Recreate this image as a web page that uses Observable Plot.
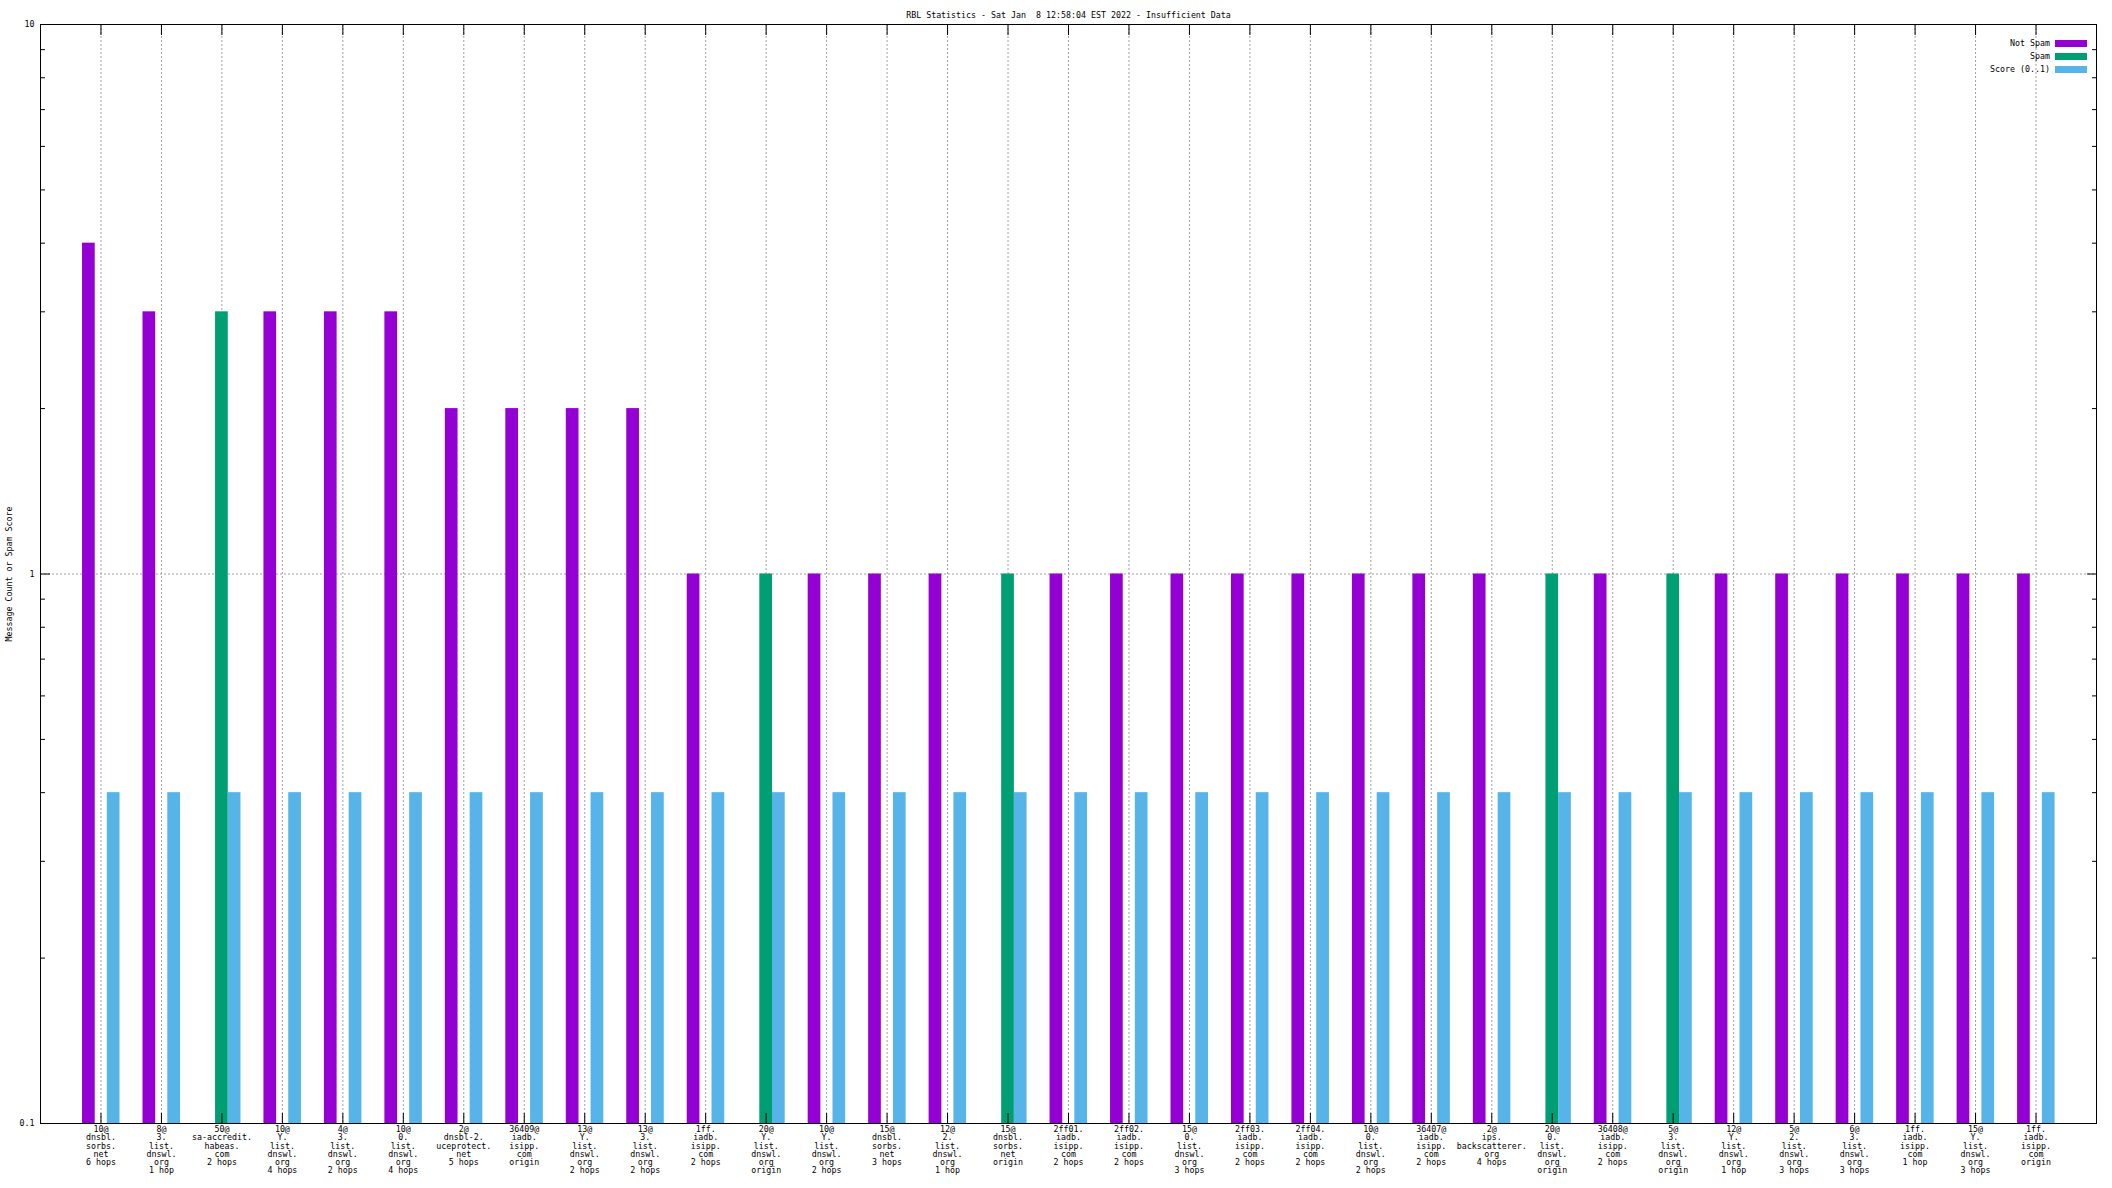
<!DOCTYPE html>
<html>
<head>
<meta charset="utf-8">
<script src="https://cdn.jsdelivr.net/npm/d3@7"></script>
<script src="https://cdn.jsdelivr.net/npm/@observablehq/plot@0.6"></script>
<style>
  html, body { margin: 0; padding: 0; background: #fff; }
  #wrap { position: relative; width: 2112px; height: 1188px; font-family: "DejaVu Sans Mono", monospace; }
  .leg { position: absolute; font-size: 8.3px; line-height: 8px; color: #000; display: flex; align-items: center; }
  .leg span.t { text-align: right; }
  .leg span.s { display: inline-block; width: 32px; height: 7px; margin-left: 5px; }
</style>
</head>
<body>
<div id="wrap"></div>
<script>
const title = "RBL Statistics - Sat Jan  8 12:58:04 EST 2022 - Insufficient Data";
const yLabel = "Message Count or Spam Score";
const categories = [
  "10@\ndnsbl.\nsorbs.\nnet\n6 hops",
  "8@\n3.\nlist.\ndnswl.\norg\n1 hop",
  "50@\nsa-accredit.\nhabeas.\ncom\n2 hops",
  "10@\nY.\nlist.\ndnswl.\norg\n4 hops",
  "4@\n3.\nlist.\ndnswl.\norg\n2 hops",
  "10@\n0.\nlist.\ndnswl.\norg\n4 hops",
  "2@\ndnsbl-2.\nuceprotect.\nnet\n5 hops",
  "36409@\niadb.\nisipp.\ncom\norigin",
  "13@\nY.\nlist.\ndnswl.\norg\n2 hops",
  "13@\n3.\nlist.\ndnswl.\norg\n2 hops",
  "1ff.\niadb.\nisipp.\ncom\n2 hops",
  "20@\nY.\nlist.\ndnswl.\norg\norigin",
  "10@\nY.\nlist.\ndnswl.\norg\n2 hops",
  "15@\ndnsbl.\nsorbs.\nnet\n3 hops",
  "12@\n2.\nlist.\ndnswl.\norg\n1 hop",
  "15@\ndnsbl.\nsorbs.\nnet\norigin",
  "2ff01.\niadb.\nisipp.\ncom\n2 hops",
  "2ff02.\niadb.\nisipp.\ncom\n2 hops",
  "15@\n0.\nlist.\ndnswl.\norg\n3 hops",
  "2ff03.\niadb.\nisipp.\ncom\n2 hops",
  "2ff04.\niadb.\nisipp.\ncom\n2 hops",
  "10@\n0.\nlist.\ndnswl.\norg\n2 hops",
  "36407@\niadb.\nisipp.\ncom\n2 hops",
  "2@\nips.\nbackscatterer.\norg\n4 hops",
  "20@\n0.\nlist.\ndnswl.\norg\norigin",
  "36408@\niadb.\nisipp.\ncom\n2 hops",
  "5@\n3.\nlist.\ndnswl.\norg\norigin",
  "12@\nY.\nlist.\ndnswl.\norg\n1 hop",
  "5@\n2.\nlist.\ndnswl.\norg\n3 hops",
  "6@\n3.\nlist.\ndnswl.\norg\n3 hops",
  "1ff.\niadb.\nisipp.\ncom\n1 hop",
  "15@\nY.\nlist.\ndnswl.\norg\n3 hops",
  "1ff.\niadb.\nisipp.\ncom\norigin"
];
const notSpam = [4,3,null,3,3,3,2,2,2,2,1,null,1,1,1,null,1,1,1,1,1,1,1,1,null,1,null,1,1,1,1,1,1];
const spam    = [null,null,3,null,null,null,null,null,null,null,null,1,null,null,null,1,null,null,null,null,null,null,null,null,1,null,1,null,null,null,null,null,null];
const score   = [0.4,0.4,0.4,0.4,0.4,0.4,0.4,0.4,0.4,0.4,0.4,0.4,0.4,0.4,0.4,0.4,0.4,0.4,0.4,0.4,0.4,0.4,0.4,0.4,0.4,0.4,0.4,0.4,0.4,0.4,0.4,0.4,0.4];
const seriesNames = ["Not Spam", "Spam", "Score (0..1)"];
const seriesColors = ["#9400d3", "#009e73", "#56b4e9"];
const yMajor = [0.1, 1, 10];
const yMinor = [0.2,0.3,0.4,0.5,0.6,0.7,0.8,0.9,2,3,4,5,6,7,8,9];

const seriesValues = [notSpam, spam, score];
const offsets = [-0.2, 0, 0.21];
const halfW = 0.105;
const idx = categories.map((_, i) => i);
const rows = [];
seriesValues.forEach((vals, s) => vals.forEach((v, i) => {
  if (v != null) rows.push({i, v, s});
}));

const font = "DejaVu Sans Mono";
const fs = 8.3;
const grid = "#a0a0a0";
const dash = "2,2";
const blank = () => "";

const chart = Plot.plot({
  width: 2112,
  height: 1188,
  marginLeft: 40,
  marginRight: 16,
  marginTop: 24,
  marginBottom: 65,
  style: {fontFamily: font, fontSize: fs + "px", background: "#fff", color: "#000"},
  x: {type: "linear", domain: [-1, categories.length]},
  y: {type: "log", domain: [0.1, 10]},
  marks: [
    Plot.ruleX(idx, {x: d => d, stroke: grid, strokeDasharray: dash, strokeWidth: 1}),
    Plot.ruleY([1], {stroke: grid, strokeDasharray: dash, strokeWidth: 1}),
    Plot.rect(rows, {
      x1: d => d.i + offsets[d.s] - halfW,
      x2: d => d.i + offsets[d.s] + halfW,
      y1: 0.1,
      y2: d => d.v,
      fill: d => seriesColors[d.s]
    }),
    Plot.frame({stroke: "#000", strokeWidth: 1}),
    Plot.axisX({ticks: idx, tickSize: -10, tickPadding: 13, tickFormat: i => categories[i], lineAnchor: "top", lineHeight: 0.98, fontSize: fs, label: null, stroke: "#000"}),
    Plot.axisX({anchor: "top", ticks: idx, tickSize: -10, tickFormat: blank, label: null}),
    Plot.axisY({ticks: yMajor, tickSize: -10, tickPadding: 16, tickFormat: d => String(d), fontSize: fs, label: null}),
    Plot.axisY({ticks: yMinor, tickSize: -5, tickFormat: blank, label: null}),
    Plot.axisY({anchor: "right", ticks: yMajor, tickSize: -10, tickFormat: blank, label: null}),
    Plot.axisY({anchor: "right", ticks: yMinor, tickSize: -5, tickFormat: blank, label: null}),
    Plot.text([title], {frameAnchor: "top", dy: -12, fontSize: fs, text: d => d}),
    Plot.text([yLabel], {frameAnchor: "left", dx: -31, rotate: -90, textAnchor: "middle", fontSize: fs, text: d => d})
  ]
});

const wrap = document.getElementById("wrap");
wrap.appendChild(chart);
seriesNames.forEach((name, k) => {
  const row = document.createElement("div");
  row.className = "leg";
  row.style.right = (2112 - 2087) + "px";
  row.style.top = (43 + 13 * k - 4) + "px";
  const t = document.createElement("span");
  t.className = "t";
  t.textContent = name;
  const s = document.createElement("span");
  s.className = "s";
  s.style.background = seriesColors[k];
  row.appendChild(t);
  row.appendChild(s);
  wrap.appendChild(row);
});
</script>
</body>
</html>
